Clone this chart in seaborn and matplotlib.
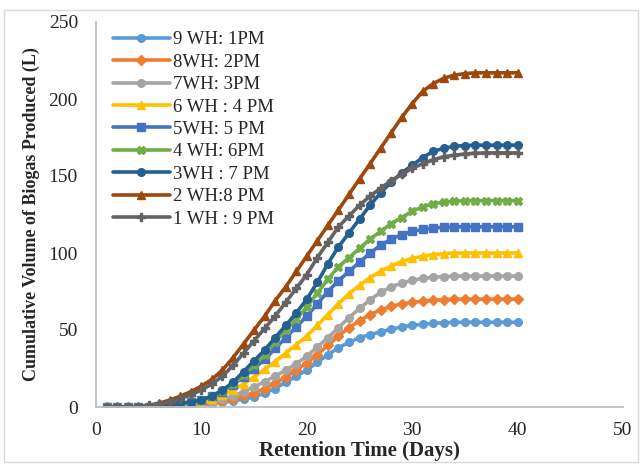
import matplotlib
matplotlib.use("Agg")
import matplotlib.pyplot as plt
import seaborn as sns
import pandas as pd
from matplotlib.patches import Rectangle

days = list(range(1, 41))

labels = ["9 WH: 1PM", "8WH: 2PM", "7WH: 3PM", "6 WH : 4 PM", "5WH: 5 PM",
          "4 WH: 6PM", "3WH : 7 PM", "2 WH:8 PM", "1 WH : 9 PM"]

wh9 = [0, 0, 0, 0, 0, 0.1, 0.3, 0.6, 1, 1.5, 2.2, 3, 4, 5.2, 6.5, 9, 12, 16, 20, 24,
       29, 34, 38.5, 42, 45, 47, 48.8, 50.5, 52, 53, 53.8, 54.3, 54.7, 55, 55, 55, 55, 55, 55, 55]
wh8 = [0, 0, 0, 0, 0, 0.1, 0.3, 0.6, 1, 1.6, 2.5, 3.7, 5.2, 7, 9, 12, 15.5, 19.5, 24, 28.5,
       34, 40, 46, 51.5, 56, 60, 63, 65.3, 67, 68, 68.8, 69.3, 69.7, 70, 70, 70, 70, 70, 70, 70]
wh7 = [0, 0, 0, 0, 0, 0.2, 0.5, 0.9, 1.5, 2.3, 3.5, 5, 7, 10, 13, 16.5, 20, 24, 28, 33,
       39, 45, 51.5, 58, 64, 69.5, 74.5, 78, 80.5, 82.3, 83.5, 84.3, 84.7, 85, 85, 85, 85, 85, 85, 85]
wh6 = [0, 0, 0, 0, 0, 0.3, 0.7, 1.2, 2, 3, 5, 7.5, 11, 15, 19.5, 24.5, 29.5, 35, 40.5, 46,
       53, 60, 67, 73.5, 79, 84, 88, 91.5, 94.5, 96.5, 98, 99, 99.6, 100, 100, 100, 100, 100, 100, 100]
wh5 = [0, 0, 0, 0, 0.2, 0.6, 1.2, 2, 3, 4.5, 7, 10, 14.5, 19.5, 25, 31, 38, 45, 52, 59,
       67, 75, 82, 88, 94, 100, 105, 109, 112, 114, 115.3, 116.2, 116.7, 117, 117, 117, 117, 117, 117, 117]
wh4 = [0, 0, 0, 0, 0.3, 0.8, 1.5, 2.3, 3.3, 4.5, 7, 10.5, 15, 21, 27, 34, 42, 50, 57, 65,
       74, 83, 91, 97, 103, 109, 114, 119, 123, 127, 130, 132, 133, 133.6, 134, 134, 134, 134, 134, 134]
wh3 = [0, 0, 0, 0, 0.3, 0.8, 1.5, 2.3, 3.3, 4.5, 7, 11, 16, 23, 30, 37, 45, 53, 61, 70,
       81, 93, 104, 113, 122, 131, 139, 146, 152, 157, 162, 166, 168, 169.3, 169.8, 170, 170, 170, 170, 170]
wh2 = [0, 0, 0, 0.3, 1, 2.5, 4.5, 7, 10, 13.5, 18, 24, 32, 41, 50, 59, 69, 78, 88, 98,
       108, 118, 128, 138, 148, 158, 168, 178, 188, 197, 205, 210, 213.5, 215.5, 216.5, 217, 217, 217, 217, 217]
wh1 = [0, 0, 0, 0.3, 1, 2, 3.5, 5.5, 8, 11, 15, 20, 27, 35, 43, 51, 59, 68, 77, 86,
       97, 107, 117, 124, 131, 137, 142, 147, 151, 155, 158, 160.5, 162.5, 163.5, 164.3, 164.8, 165, 165, 165, 165]

series = [wh9, wh8, wh7, wh6, wh5, wh4, wh3, wh2, wh1]
colors = ["#5B9BD5", "#ED7D31", "#A5A5A5", "#FFC000", "#4472C4",
          "#70AD47", "#255E91", "#9E480E", "#636363"]
markers = ["o", "D", "o", "^", "s", "X", "o", "^", "P"]

rows = []
for lab, vals in zip(labels, series):
    for d, v in zip(days, vals):
        rows.append({"day": d, "vol": v, "series": lab})
df = pd.DataFrame(rows)

sns.set_style("white")
plt.rcParams["font.family"] = ["Liberation Serif", "DejaVu Serif"]

fig = plt.figure(figsize=(6.42, 4.67), dpi=100)
ax = fig.add_axes([96 / 642, 1 - 407 / 467, 527 / 642, 385 / 467])

sns.lineplot(data=df, x="day", y="vol", hue="series", style="series",
             hue_order=labels, style_order=labels,
             palette=dict(zip(labels, colors)),
             markers=dict(zip(labels, markers)), dashes=False,
             linewidth=2.6, markersize=5.5, markeredgewidth=1.0, ax=ax)

for ln, c in zip(ax.lines, colors):
    ln.set_markeredgecolor(c)

ax.set_xlim(0, 50)
ax.set_ylim(0, 250)
ax.set_xticks(range(0, 51, 10))
ax.set_yticks(range(0, 251, 50))
ax.tick_params(axis="both", length=0, labelsize=14)
ax.tick_params(axis="x", pad=11)
ax.tick_params(axis="y", pad=13)
for s in ["top", "right"]:
    ax.spines[s].set_visible(False)
for s in ["left", "bottom"]:
    ax.spines[s].set_color("#BFBFBF")
    ax.spines[s].set_linewidth(1.3)
ax.grid(False)

ax.set_xlabel("Retention Time (Days)", fontsize=15, fontweight="bold", labelpad=1)
ax.set_ylabel("Cumulative Volume of Biogas Produced (L)", fontsize=13,
              fontweight="bold", labelpad=6)

handles, labs = ax.get_legend_handles_labels()
for h, c in zip(handles, colors):
    h.set_markeredgecolor(c)
leg = ax.legend(handles, labs, loc="upper left", bbox_to_anchor=(0.015, 1.0),
                frameon=False, fontsize=13.5, handlelength=3.0,
                labelspacing=0.28, handletextpad=0.2, borderaxespad=0.1)

fig.patches.append(Rectangle((4 / 642, 5 / 467), 634 / 642, 452 / 467,
                             transform=fig.transFigure, fill=False,
                             edgecolor="#D9D9D9", linewidth=1.0))

fig.savefig("out.png", dpi=100)
